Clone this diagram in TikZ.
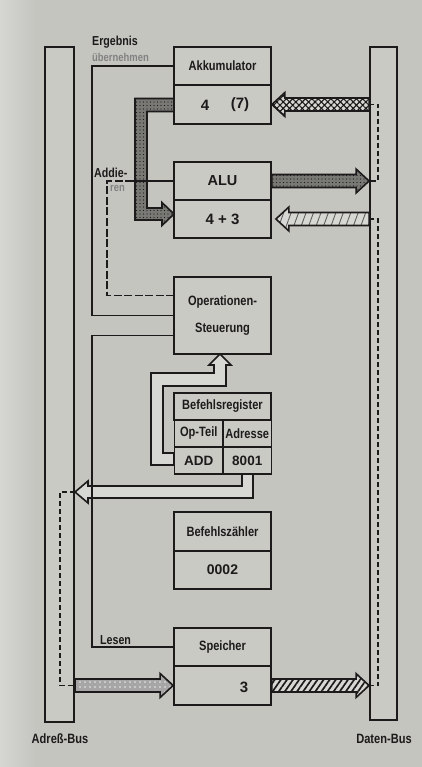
\documentclass[tikz,border=0pt]{standalone}
\usepackage{fontspec}
\setmainfont{Liberation Sans}[FakeStretch=0.82]
\newfontfamily\numfont{Liberation Sans}
\usetikzlibrary{patterns.meta,calc}
\definecolor{bg}{RGB}{197,197,192}
\definecolor{bgl}{RGB}{214,214,210}
\definecolor{boxc}{RGB}{202,202,197}
\definecolor{ink}{RGB}{28,26,26}
\definecolor{shaftl}{RGB}{215,215,211}
\definecolor{shaftd}{RGB}{120,120,116}
\newcommand\fatarrow[3][]{%
  \draw[fatbase,#1] let \p1=#2, \p2=#3, \n1={sign(\x2-\x1)} in
    (\x1,\y2+6.5pt) -- ({\x2-\n1*13pt},\y2+6.5pt) -- ({\x2-\n1*13pt},\y2+12pt)
    -- (\x2,\y2) -- ({\x2-\n1*13pt},\y2-12pt) -- ({\x2-\n1*13pt},\y2-6.5pt)
    -- (\x1,\y2-6.5pt) -- cycle;}
\begin{document}
\begin{tikzpicture}[x=1pt,y=-1pt,
  cell/.style={draw=ink, line width=1.8pt, fill=boxc, minimum width=97pt,
    inner sep=0pt, font=\fontsize{13.5}{27}\selectfont\bfseries, text=ink},
  halfcell/.style={cell, minimum width=48.5pt, minimum height=27pt},
  val/.style={inner sep=0pt, font=\numfont\fontsize{14}{16}\selectfont\bfseries, text=ink},
  bus/.style={draw=ink, line width=1.9pt, fill=boxc, inner sep=0pt},
  lbl/.style={inner sep=0pt, font=\fontsize{13}{14}\selectfont\bfseries, text=ink},
  faint/.style={inner sep=0pt, font=\fontsize{11.5}{12}\selectfont\bfseries, text=ink!55},
  ctrl/.style={draw=ink, line width=1.5pt},
  busdash/.style={draw=ink, line width=1.4pt, dash pattern=on 5pt off 3pt},
  fatbase/.style={draw=ink, line width=1.6pt, line join=miter},
  lightfill/.style={preaction={fill=shaftl}},
  xhatch/.style={preaction={fill=shaftl},
    preaction={pattern={Hatch[angle=45,distance=4.5pt,line width=1.1pt]}, pattern color=ink}},
  darkdots/.style={preaction={fill=shaftd},
    preaction={pattern={Dots[distance=3.5pt,radius=0.7pt]}, pattern color=ink}},
  lightdots/.style={preaction={fill=shaftl},
    preaction={pattern={Lines[angle=70,distance=7pt,line width=0.9pt]}, pattern color=ink!70}},
  grayshaft/.style={preaction={fill=gray!70},
    preaction={pattern={Dots[distance=5pt,radius=0.9pt]}, pattern color=white!85!gray}},
  slant/.style={preaction={fill=shaftl},
    preaction={pattern={Lines[angle=55,distance=5pt,line width=1.7pt]}, pattern color=ink}},
]
\useasboundingbox (0,0) rectangle (422,767);
\fill[bg] (0,0) rectangle (422,767);
\shade[left color=bgl, right color=bg] (0,0) rectangle (35,767);

% buses
\node[bus, minimum width=29pt, minimum height=675pt] (abus) at (59.5,384.5) {};
\node[bus, minimum width=27pt, minimum height=673pt] (dbus) at (383.5,383.5) {};

% Akkumulator
\node[cell, minimum height=38pt] (akkuT) at (222.5,66) {Akkumulator};
\node[cell, minimum height=39pt] (akkuB) at (222.5,104.5) {};
\node[val, font=\numfont\fontsize{15}{16}\selectfont\bfseries] (akkuV) at (205,105) {4};
\node[val, font=\numfont\fontsize{15}{16}\selectfont\bfseries] (akkuN) at (240,105) {(7)};

% ALU
\node[cell, minimum height=38pt, font=\numfont\fontsize{14.5}{16}\selectfont\bfseries] (aluT) at (222.5,181) {ALU};
\node[cell, minimum height=38pt, font=\numfont\fontsize{15}{16}\selectfont\bfseries] (aluB) at (222.5,219) {4 + 3};

% Operationen-Steuerung
\node[cell, minimum height=77pt, align=center] (ops) at (222.5,315.5) {Operationen-\\Steuerung};

% Befehlsregister
\node[cell, minimum height=27pt] (brH) at (222.5,406.5) {Befehlsregister};
\node[halfcell] (brOp) at (198.75,433.5) {Op-Teil};
\node[halfcell] (brAd) at (247.25,433.5) {Adresse};
\node[halfcell, font=\numfont\fontsize{13.5}{16}\selectfont\bfseries] (brADD) at (198.75,460.5) {ADD};
\node[halfcell, font=\numfont\fontsize{13.5}{16}\selectfont\bfseries] (brAdr) at (247.25,460.5) {8001};

% Befehlszaehler
\node[cell, minimum height=39pt] (bzT) at (222.5,531.5) {Befehlszähler};
\node[cell, minimum height=38pt, font=\numfont\fontsize{14}{16}\selectfont\bfseries] (bzB) at (222.5,570) {0002};

% Speicher
\node[cell, minimum height=38pt] (spT) at (222.5,647) {Speicher};
\node[cell, minimum height=39pt] (spB) at (222.5,685.5) {};
\node[val, font=\numfont\fontsize{15}{16}\selectfont\bfseries] (spV) at (244,687) {3};

% fat arrows (horizontal)
\fatarrow[xhatch]{(dbus.west |- akkuB.east)}{(akkuB.east)}
\fatarrow[darkdots]{(aluT.east)}{(dbus.west |- aluT.east)}
\fatarrow[lightdots]{(dbus.west |- aluB.east)}{($(aluB.east)+(4,0)$)}
\fatarrow[grayshaft]{(abus.east |- spB.west)}{(spB.west)}
\fatarrow[slant]{(spB.east)}{(dbus.west |- spB.east)}

% Akku -> ALU (L shape)
\draw[fatbase, darkdots] (174,98.5) -- (135,98.5) -- (135,220) -- (162,220) -- (162,225.5)
  -- (174,214) -- (162,202.5) -- (162,208) -- (147,208) -- (147,111.5) -- (174,111.5) -- cycle;

% Op-Teil -> Operationen-Steuerung
\draw[fatbase, lightfill] (174,465) -- (151,465) -- (151,373) -- (214,373) -- (214,365)
  -- (209,365) -- (220,354) -- (231,365) -- (226,365) -- (226,386) -- (163,386)
  -- (163,453) -- (174,453) -- cycle;

% Adresse -> Adress-Bus
\coordinate (adrtip) at (75,492);
\draw[fatbase, lightfill] (242,474) -- (242,486) -- (88,486) -- (88,481) -- (adrtip)
  -- (88,503) -- (88,498) -- (253,498) -- (253,474) -- cycle;

% dashed links inside the buses
\draw[busdash] (dbus.west |- akkuB.east) -- ++(9,0) |- (dbus.west |- aluT.east);
\draw[busdash] (dbus.west |- aluB.east) -- ++(9,0) |- (dbus.west |- spB.east);
\draw[busdash] (adrtip) -- (60,492) |- (abus.east |- spB.west);

% control lines
\draw[ctrl] (akkuT.west) -- ++(-81,0) |- (ops.west);
\draw[ctrl] (aluT.west) -- ++(-40,0);
\draw[ctrl, dash pattern=on 8pt off 2.5pt] ($(aluT.west)+(-40,0)$) -- ++(-26,0) |- ($(ops.west)+(0,-20)$);
\draw[ctrl] (spT.west) -- ++(-81,0) |- ($(ops.west)+(0,20)$);

% labels
\node[lbl, anchor=west] (ergebnis) at (92,42) {Ergebnis};
\node[faint, anchor=west] (uebern) at (92,57) {übernehmen};
\node[lbl, anchor=west] (addie) at (94,173) {Addie-};
\node[faint, anchor=west] (ren) at (110,188) {ren};
\node[lbl, anchor=west] (lesen) at (100,640) {Lesen};
\node[lbl, font=\fontsize{13.5}{14}\selectfont\bfseries] (abuslbl) at (60,739) {Adreß-Bus};
\node[lbl, font=\fontsize{13.5}{14}\selectfont\bfseries] (dbuslbl) at (384,739) {Daten-Bus};
\end{tikzpicture}
\end{document}
